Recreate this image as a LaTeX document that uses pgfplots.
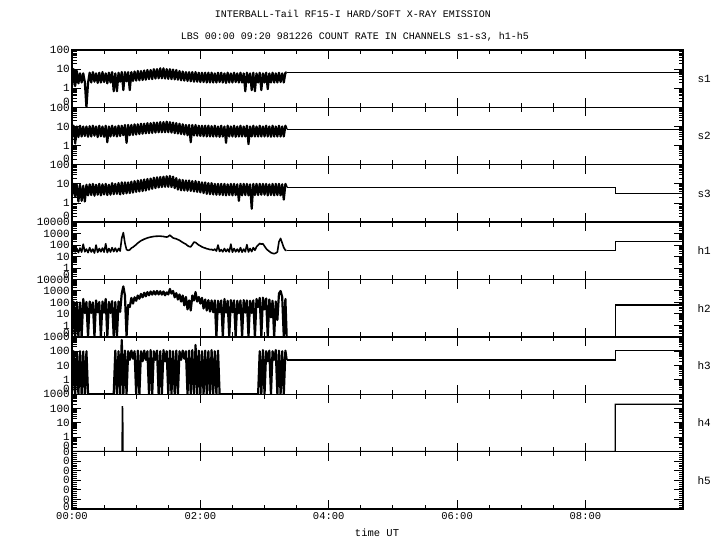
\documentclass[border=0pt]{standalone}
\usepackage{fontspec}
\setmainfont{Liberation Mono}
\usepackage{pgfplots}
\usepackage{pgfplotstable}
\pgfplotsset{compat=1.18}

% count rates (0.1 stands for a zero count)
\pgfplotstableread{
t s1 s2 s3 h1 h2 h3
0.000 1.2 3 2.4 20 0.1 0.1
0.025 10 11 10 60 120 100
0.050 1.3 1.3 2.2 25 0.1 0.1
0.075 8 10 9 50 110 90
0.100 1.8 2.8 1.2 22 0.1 0.1
0.125 6 11 9 55 100 100
0.150 2 3 1.3 24 0.1 0.1
0.175 6 10 8 120 200 95
0.200 2.1 3.2 1.2 26 12 0.1
0.225 0.1 10 9 45 110 100
0.250 1.9 2.9 2.5 22 0.1 0.1
0.275 6.5 10.5 9.5 60 120 0.1
0.300 2 3 2.6 25 12 0.1
0.325 7 11 10 45 100 0.1
0.350 2.2 3.3 2.4 20 0.1 0.1
0.375 6 10 9 100 150 0.1
0.400 1.9 2.8 2.7 23 14 0.1
0.425 6.5 11 10 50 110 0.1
0.450 2 3.1 2.5 26 0.1 0.1
0.475 7 10 9.5 55 120 0.1
0.500 2.1 2.9 2.8 24 13 0.1
0.525 6 11 10 130 200 0.1
0.550 1.8 1.5 2.6 22 0.1 0.1
0.575 6.5 10 9 50 110 0.1
0.600 2 3 2.7 25 12 0.1
0.625 7 11 11 60 130 0.1
0.650 0.7 3.2 2.9 27 0.1 0.1
0.675 6 10 10 55 110 110
0.700 0.7 3 3 26 0.1 0.1
0.725 6.5 11 11 50 120 100
0.750 2.2 3.2 2.8 30 15 0.1
0.775 7 11 12 400 600 600
0.800 0.8 3.5 3 1200 2500 0.1
0.825 7 12 12 150 400 110
0.850 2.3 1.4 3.2 40 0.1 0.1
0.875 7 12 12 35 60 100
0.900 0.8 3.5 3.3 38 40 25
0.925 7 12 13 55 250 110
0.950 2.4 3.6 3.5 65 80 30
0.975 7.5 13 14 85 280 100
1.000 2.5 3.8 3.8 110 140 0.1
1.025 8 13 15 150 400 110
1.050 2.6 4 4 190 210 0.1
1.075 8 14 16 240 550 100
1.100 2.7 4.2 4.2 280 280 20
1.125 8.5 14 17 330 700 110
1.150 2.8 4.4 4.5 370 340 25
1.175 9 15 18 420 800 100
1.200 3 4.5 5 460 420 0.1
1.225 9 15 19 500 900 120
1.250 3 4.6 5.5 530 480 0.1
1.275 10 16 21 560 950 100
1.300 3.2 4.8 6 580 500 25
1.325 10 16 22 590 1000 110
1.350 3.3 5 6.5 600 500 0.1
1.375 11 17 23 600 950 100
1.400 3.3 5 6.8 580 480 0.1
1.425 11 17 24 560 900 120
1.450 3.2 5 7 520 420 20
1.475 10 18 25 500 750 100
1.500 3.1 5 7 560 500 0.1
1.525 10 17 26 740 1500 110
1.550 3 4.8 6.8 550 600 0.1
1.575 9.5 16 24 420 1000 100
1.600 2.9 4.5 6 380 280 0.1
1.625 9 15 20 350 650 110
1.650 2.8 4.3 5 300 180 0.1
1.675 8 14 17 260 500 100
1.700 2.6 4 4.6 210 120 25
1.725 7.5 13 16 170 400 110
1.750 2.5 3.8 4.5 140 56 30
1.775 7 12 15 120 300 100
1.800 2.4 3.5 4.4 90 25 0.1
1.825 7 12 15 75 150 110
1.850 2.3 1.5 4.3 70 20 0.1
1.875 7 12 14 110 400 120
1.900 2.2 3.4 4 180 150 0.1
1.925 7 12 14 170 800 270
1.950 2.2 3.3 3.8 130 120 0.1
1.975 6.5 11 13 100 300 110
2.000 2.1 3.2 3.6 85 80 0.1
2.025 6.5 11 12 70 250 100
2.050 2.1 3.1 3.3 60 30 0.1
2.075 6.5 11 12 55 180 110
2.100 2 3 3 48 20 0.1
2.125 6.5 11 11 45 160 100
2.150 2 3 2.9 40 16 0.1
2.175 6.5 10.5 11 42 150 120
2.200 2 3 2.8 35 14 0.1
2.225 6 11 10 45 150 100
2.250 2 3 2.7 30 0.1 0.1
2.275 6.5 10 10 100 140 110
2.300 2.1 2.9 2.7 28 14 0.1
2.325 6.5 11 10 40 150 0.1
2.350 2 3 2.6 26 0.1 0.1
2.375 6 10 10 50 200 0.1
2.400 1.9 1.4 2.5 27 13 0.1
2.425 6.5 11 9.5 45 140 0.1
2.450 2 3 2.6 25 0.1 0.1
2.475 6 10 10 120 160 0.1
2.500 2 3 2.5 24 14 0.1
2.525 6.5 11 10 50 150 0.1
2.550 2.1 2.9 2.6 26 0.1 0.1
2.575 6 10 9.5 45 140 0.1
2.600 2 3 1.3 25 12 0.1
2.625 6.5 11 10 60 150 0.1
2.650 2 3 2.5 24 0.1 0.1
2.675 6 10 10 45 160 0.1
2.700 0.7 3 2.6 26 13 0.1
2.725 6.5 11 10 110 150 0.1
2.750 2 1.2 2.5 25 0.1 0.1
2.775 6 10 9.5 50 140 0.1
2.800 0.8 3 0.5 27 12 0.1
2.825 6.5 11 10 60 150 0.1
2.850 0.7 3 2.6 35 0.1 0.1
2.875 6 10 10 70 200 0.1
2.900 2 3 2.6 100 40 0.1
2.925 6.5 11 10 140 250 100
2.950 0.8 3 2.7 120 0.1 0.1
2.975 6 10 10 130 260 120
3.000 2 3 2.7 80 25 0.1
3.025 6.5 11 10 50 220 100
3.050 0.9 3 2.5 36 0.1 20
3.075 6 10 9.5 28 180 110
3.100 2 2.9 2.6 22 5 0.1
3.125 6.5 11 10 19 140 100
3.150 2 3 2.5 18 0.1 25
3.175 6 10 10 20 120 120
3.200 2 3 2.6 25 3 0.1
3.225 6.5 11 10 200 600 110
3.250 2.1 3 2.5 380 1000 0.1
3.275 6 10 9.5 150 300 100
3.300 2 3 1.5 60 0.1 0.1
3.325 6.5 11 10 35 200 110
3.345 6.8 7.2 6.8 35 0.1 24.5
}\rates

\pgfplotsset{
  panel/.style={
    at={(72pt,#1)}, anchor=south west, scale only axis,
    width=611pt, height=57.375pt,
    xmin=0, xmax=9.52,
    xtick={0,2,4,6,8}, xticklabels={}, minor x tick num=3,
    axis line style={line width=1.3pt},
    tick align=inside, xtick pos=both, ytick pos=both,
    major tick length=9pt, minor tick length=4.5pt,
    every major tick/.append style={black, line width=1pt},
    every minor tick/.append style={black, line width=0.9pt},
    yticklabel style={font=\fontsize{11}{12}\selectfont, inner sep=2pt},
    xticklabel style={font=\fontsize{10.5}{12}\selectfont},
  },
  noisy/.style={black, line width=2.2pt, no marks, line join=round},
  level/.style={black, line width=1.1pt, no marks},
  dec3/.style={ymin=0.1, ymax=100,
    ytick={0.1,1,10,100}, yticklabels={\raisebox{12pt}{0},1,10,100},
    minor ytick={0.2,0.3,0.4,0.5,0.6,0.7,0.8,0.9,2,3,4,5,6,7,8,9,20,30,40,50,60,70,80,90}},
  dec4/.style={ymin=0.1, ymax=1000,
    ytick={0.1,1,10,100,1000}, yticklabels={\raisebox{11pt}{0},1,10,100,1000},
    minor ytick={0.2,0.3,0.4,0.5,0.6,0.7,0.8,0.9,2,3,4,5,6,7,8,9,20,30,40,50,60,70,80,90,200,300,400,500,600,700,800,900}},
  dec5/.style={ymin=0.1, ymax=10000,
    ytick={0.1,1,10,100,1000,10000}, yticklabels={\raisebox{9pt}{0},1,10,100,1000,10000},
    minor ytick={0.2,0.3,0.4,0.5,0.6,0.7,0.8,0.9,2,3,4,5,6,7,8,9,20,30,40,50,60,70,80,90,200,300,400,500,600,700,800,900,2000,3000,4000,5000,6000,7000,8000,9000}},
}

\begin{document}
\begin{tikzpicture}
\useasboundingbox (0,0) rectangle (720pt,550pt);

\begin{semilogyaxis}[panel=442.625pt, dec3, name=p1,
    yticklabels={\raisebox{12pt}{0},1,10,\raisebox{-6pt}{100}}]
  \addplot[noisy] table[x=t, y=s1] {\rates};
  \addplot[level] coordinates {(3.345,6.8) (9.52,6.8)};
\end{semilogyaxis}

\begin{semilogyaxis}[panel=385.25pt, dec3, name=p2]
  \addplot[noisy] table[x=t, y=s2] {\rates};
  \addplot[level] coordinates {(3.345,7.2) (8.465,7.2) (8.465,6.8) (9.52,6.8)};
\end{semilogyaxis}

\begin{semilogyaxis}[panel=327.875pt, dec3, name=p3]
  \addplot[noisy] table[x=t, y=s3] {\rates};
  \addplot[level] coordinates {(3.345,6.8) (8.465,6.8) (8.465,3.1) (9.52,3.1)};
\end{semilogyaxis}

\begin{semilogyaxis}[panel=270.5pt, dec5, name=p4]
  \addplot[noisy, line width=1.6pt] table[x=t, y=h1] {\rates};
  \addplot[level] coordinates {(3.345,35) (8.465,35) (8.465,210) (9.52,210)};
\end{semilogyaxis}

\begin{semilogyaxis}[panel=213.125pt, dec5, name=p5]
  \addplot[noisy] table[x=t, y=h2] {\rates};
  \addplot[level] coordinates {(3.345,0.1) (8.465,0.1) (8.465,60) (9.52,60)};
\end{semilogyaxis}

\begin{semilogyaxis}[panel=155.75pt, dec4, name=p6]
  \addplot[noisy] table[x=t, y=h3] {\rates};
  \addplot[level] coordinates {(3.345,24.5) (8.465,24.5) (8.465,115) (9.52,115)};
\end{semilogyaxis}

\begin{semilogyaxis}[panel=98.375pt, dec4, name=p7]
  \addplot[level, line width=1.4pt] coordinates {(0,0.1) (0.78,0.1) (0.785,150) (0.79,80) (0.795,0.1)
    (8.465,0.1) (8.465,200) (9.52,200)};
\end{semilogyaxis}

\begin{axis}[panel=41pt, name=p8,
    ymin=0, ymax=6, ytick={0,1,2,3,4,5,6},
    yticklabels={\raisebox{5pt}{0},0,0,0,0,0,0}, minor y tick num=4,
    xticklabels={00:00,02:00,04:00,06:00,08:00}]
  \addplot[level] coordinates {(0,0) (9.52,0)};
\end{axis}

\foreach \p/\lab in {p1/s1,p2/s2,p3/s3,p4/h1,p5/h2,p6/h3,p7/h4,p8/h5}
  \node[anchor=west, font=\fontsize{11}{12}\selectfont] at ([xshift=11pt]\p.east) {\lab};

\node[font=\fontsize{10}{12}\selectfont] at (353pt,536pt) {INTERBALL-Tail RF15-I HARD/SOFT X-RAY EMISSION};
\node[font=\fontsize{10}{12}\selectfont] at (355pt,513pt) {LBS 00:00 09:20 981226  COUNT RATE IN CHANNELS s1-s3, h1-h5};
\node[font=\fontsize{10.5}{12}\selectfont] at (377pt,17pt) {time UT};
\end{tikzpicture}
\end{document}
